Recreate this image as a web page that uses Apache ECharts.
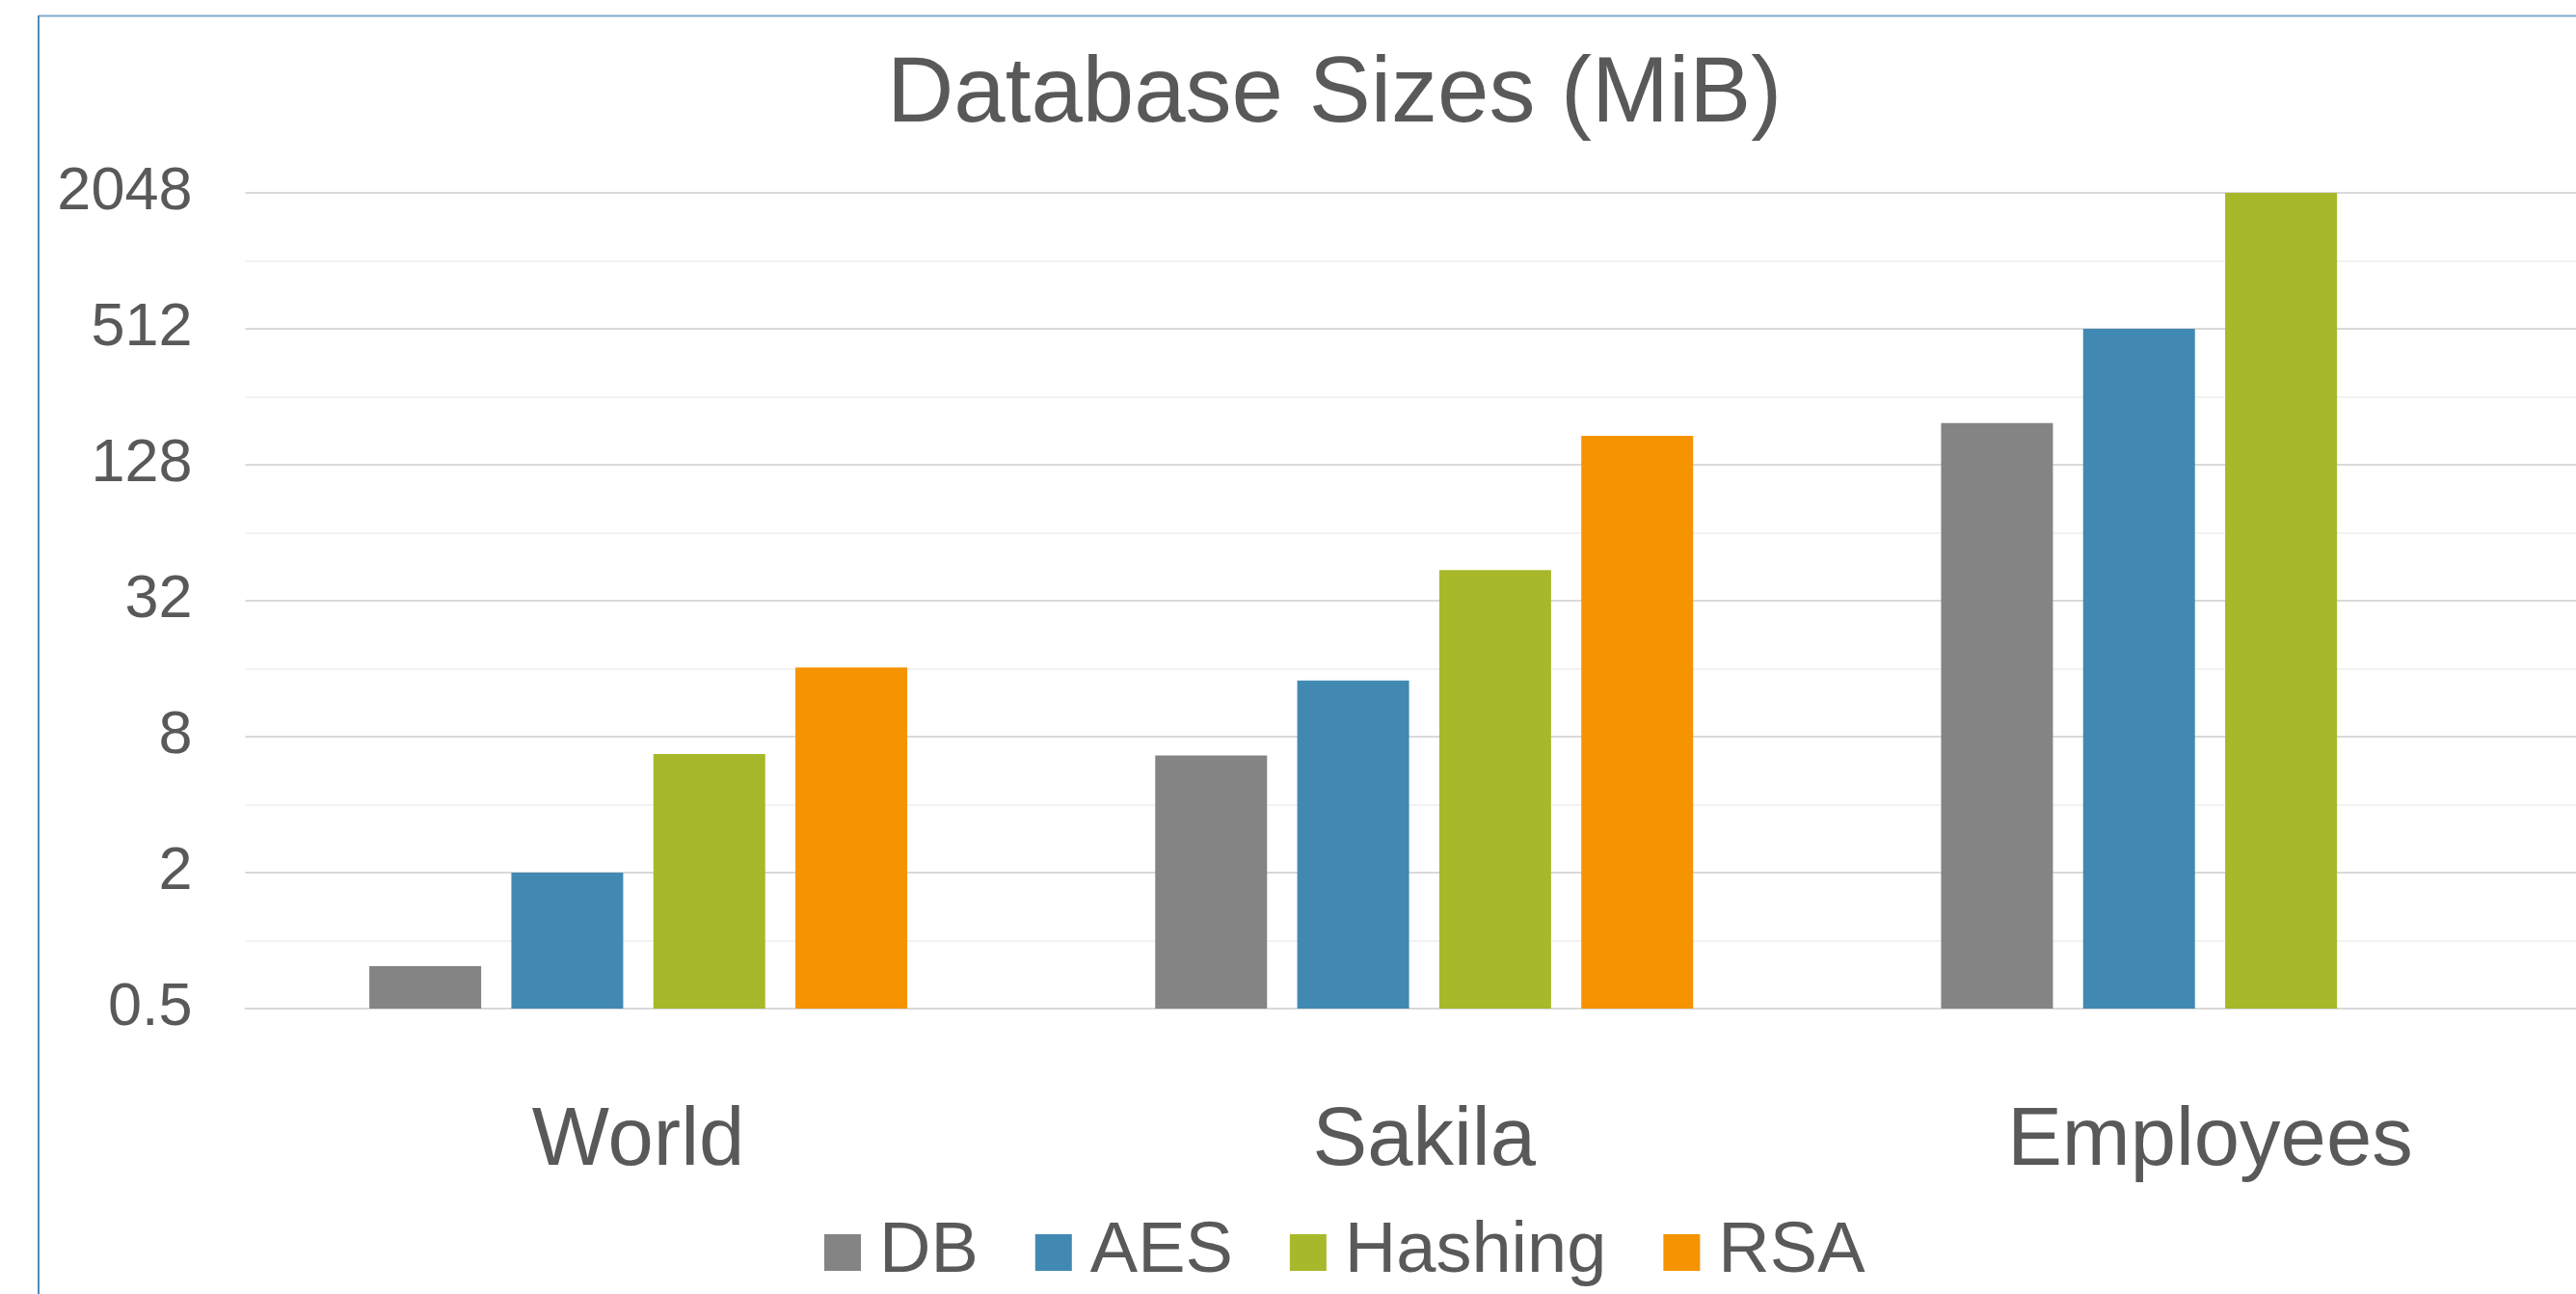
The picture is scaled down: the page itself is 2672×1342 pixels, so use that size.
<!DOCTYPE html>
<html>
<head>
<meta charset="utf-8">
<script src="https://cdn.jsdelivr.net/npm/echarts@6/dist/echarts.min.js"></script>
<style>
html,body{margin:0;padding:0;background:#fff;overflow:hidden;width:2672px;height:1342px;}
#chart{width:2730px;height:1342px;}
</style>
</head>
<body>
<div id="chart"></div>
<script>
// ---- data (MiB) ----
const categories = ['World', 'Sakila', 'Employees'];
const seriesNames = ['DB', 'AES', 'Hashing', 'RSA'];
const dbSizes = [0.77, 6.6, 196];
const aesSizes = [2, 14.2, 512];
const hashingSizes = [6.7, 43.7, 2048];
const rsaSizes = [16.2, 172, null];
const yTickLabels = ['0.5', '2', '8', '32', '128', '512', '2048'];

const seriesColors = ['#848484', '#4189b3', '#a7b92a', '#f59300'];
const FONT = "'Liberation Sans', Arial, sans-serif";
const TEXT = '#595959';

// log2 scale anchored at the lowest tick (0.5 MiB)
const AXIS_BASE = parseFloat(yTickLabels[0]);
const AXIS_TOP = parseFloat(yTickLabels[yTickLabels.length - 1]);
const toAxis = v => (v == null ? null : Math.log2(v / AXIS_BASE));

const seriesData = [dbSizes, aesSizes, hashingSizes, rsaSizes];

const chart = echarts.init(document.getElementById('chart'), null, {renderer: 'canvas'});
chart.setOption({
  animation: false,
  backgroundColor: '#ffffff',
  textStyle: {fontFamily: FONT},
  title: {
    text: 'Database Sizes (MiB)',
    left: 920,
    top: 52,
    padding: 0,
    textStyle: {fontFamily: FONT, fontSize: 96, fontWeight: 'normal', color: TEXT}
  },
  legend: {
    data: seriesNames,
    left: 855,
    top: 1262,
    padding: 0,
    itemWidth: 66,
    itemHeight: 38,
    itemGap: 59,
    icon: 'path://M0,0L10,0L10,10L0,10Z',
    textStyle: {fontFamily: FONT, fontSize: 74, color: TEXT}
  },
  grid: {left: 254.5, right: 30, top: 200, bottom: 296, containLabel: false},
  xAxis: {
    type: 'category',
    data: categories,
    axisLine: {show: true, lineStyle: {color: '#d9d9d9', width: 2}},
    axisTick: {show: false},
    axisLabel: {fontFamily: FONT, fontSize: 85, color: TEXT, margin: 96}
  },
  yAxis: {
    type: 'value',
    min: 0,
    max: toAxis(AXIS_TOP),
    interval: 2,
    axisLine: {show: false},
    axisTick: {show: false},
    axisLabel: {
      fontFamily: FONT, fontSize: 63, color: TEXT, margin: 55,
      formatter: (val, idx) => yTickLabels[idx]
    },
    splitLine: {show: true, lineStyle: {color: '#d9d9d9', width: 2}},
    minorTick: {show: false, splitNumber: 2},
    minorSplitLine: {show: true, lineStyle: {color: '#f2f2f2', width: 2}}
  },
  series: seriesNames.map((name, i) => ({
    name: name,
    type: 'bar',
    barWidth: 116,
    barGap: '27%',
    itemStyle: {color: seriesColors[i]},
    data: seriesData[i].map(toAxis)
  })),
  graphic: [{
    type: 'line',
    silent: true,
    shape: {x1: 40, y1: 16.5, x2: 2730, y2: 16.5},
    style: {stroke: '#7fa9cc', lineWidth: 2}
  }, {
    type: 'line',
    silent: true,
    shape: {x1: 40, y1: 16, x2: 40, y2: 1342},
    style: {stroke: '#4f8cba', lineWidth: 2}
  }]
});
</script>
</body>
</html>
